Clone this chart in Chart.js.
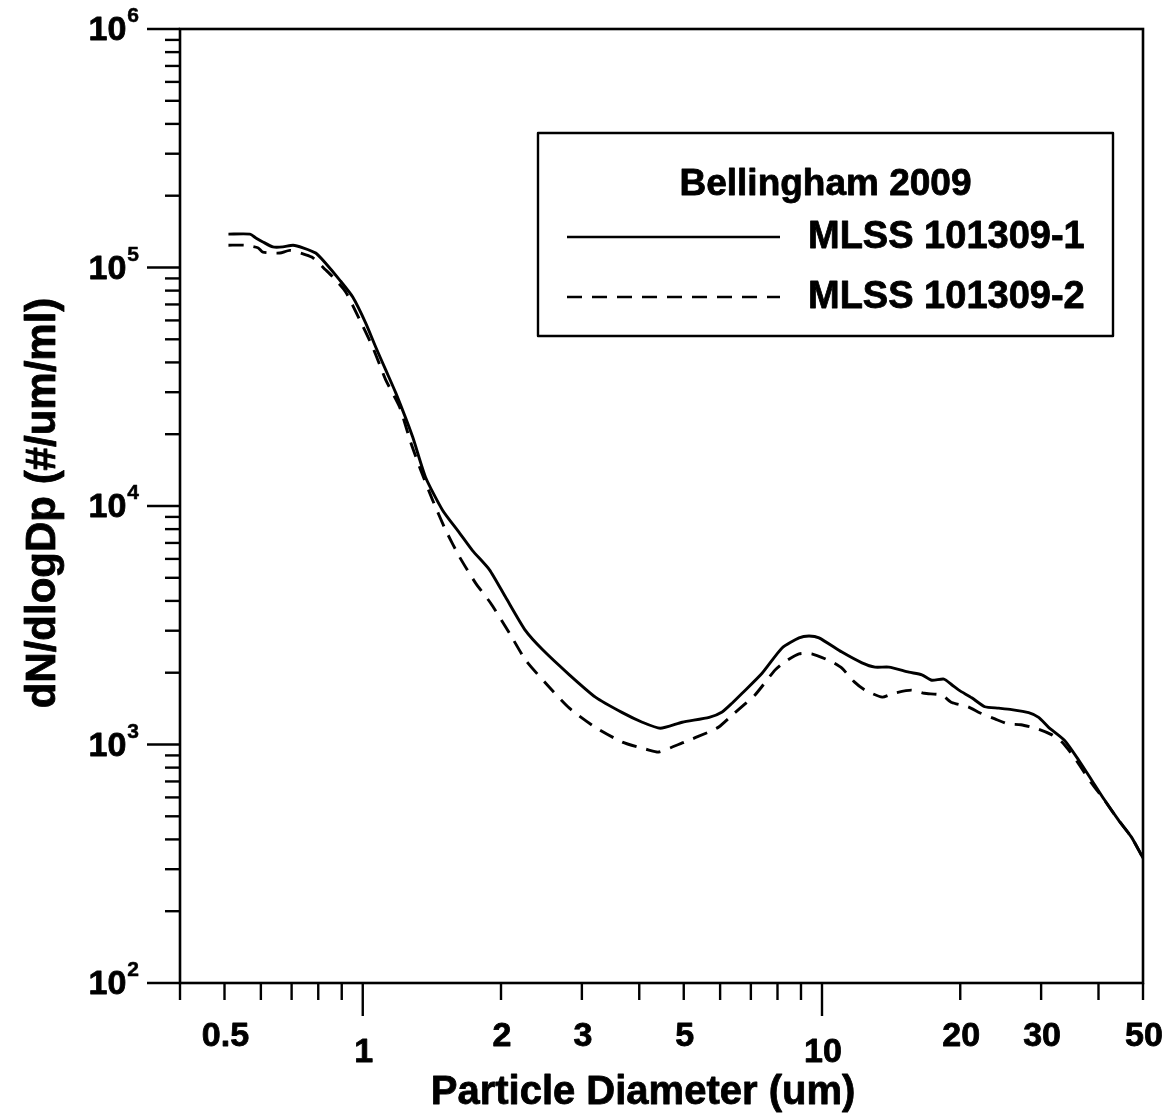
<!DOCTYPE html>
<html>
<head>
<meta charset="utf-8">
<script src="https://cdn.jsdelivr.net/npm/chart.js@4.4.1/dist/chart.umd.min.js"></script>
<style>
  html, body { margin: 0; padding: 0; background: #fff; }
  #wrap { width: 1168px; height: 1116px; position: relative; }
</style>
</head>
<body>
<div id="wrap"><canvas id="c" width="1168" height="1116"></canvas></div>
<script>
// ---- data ----
const diam1 = [0.51,0.568,0.585,0.606,0.637,0.670,0.705,0.741,0.790,0.831,0.891,0.951,1.015,1.067,1.122,1.180,1.284,1.370,1.492,1.625,1.734,1.888,2.046,2.262,2.462,2.818,3.211,3.675,4.061,4.444,4.963,5.680,6.062,6.37,6.701,7.405,8.185,8.913,9.370,9.851,11.05,12.22,13.04,13.99,15.46,16.50,17.34,18.42,19.17,19.86,21.19,22.62,24.26,25.88,28.18,29.63,31.15,33.75,36.21,38.64,41.24,44.23,47.19,50];
const vals1 = [1.38e5,1.38e5,1.33e5,1.28e5,1.22e5,1.22e5,1.24e5,1.21e5,1.15e5,1.04e5,8.86e4,7.52e4,5.85e4,4.64e4,3.72e4,2.98e4,1.95e4,1.32e4,9.6e3,7.7e3,6.5e3,5.4e3,4.15e3,3.0e3,2.5e3,1.96e3,1.58e3,1.36e3,1.24e3,1.17e3,1.24e3,1.30e3,1.37e3,1.49e3,1.64e3,1.99e3,2.54e3,2.80e3,2.85e3,2.80e3,2.44e3,2.20e3,2.11e3,2.11e3,2.01e3,1.96e3,1.86e3,1.88e3,1.78e3,1.69e3,1.57e3,1.44e3,1.42e3,1.40e3,1.36e3,1.30e3,1.18e3,1.04e3,861,710,585,482,409,334];
const diam2 = [0.51,0.554,0.591,0.606,0.660,0.694,0.752,0.778,0.831,0.861,0.918,0.985,1.051,1.122,1.203,1.271,1.337,1.419,1.515,1.625,1.761,1.898,2.087,2.262,2.500,2.818,3.211,3.675,4.200,4.41,4.963,5.680,5.96,6.45,7.14,7.90,8.30,8.91,9.50,10.52,11.05,11.76,12.41,13.53,14.33,15.65,16.70,18.23,19.17,20.80,22.1,23.8,25.4,27.1,29.6,31.6,33.3,35.5,38.6,41.2,44.2,47.2,50];
const vals2 = [1.24e5,1.24e5,1.21e5,1.16e5,1.15e5,1.18e5,1.13e5,1.10e5,9.76e4,9.13e4,7.90e4,6.03e4,4.64e4,3.38e4,2.60e4,1.855e4,1.416e4,1.06e4,7.93e3,6.11e3,4.75e3,3.92e3,2.93e3,2.26e3,1.81e3,1.42e3,1.18e3,1.024e3,948,930,1.015e3,1.13e3,1.184e3,1.356e3,1.61e3,2.05e3,2.22e3,2.40e3,2.40e3,2.22e3,2.09e3,1.83e3,1.69e3,1.58e3,1.64e3,1.69e3,1.64e3,1.61e3,1.50e3,1.44e3,1.356e3,1.28e3,1.22e3,1.21e3,1.16e3,1.10e3,1.024e3,878,690,585,482,409,334];

const seriesNames = ['MLSS 101309-1', 'MLSS 101309-2'];
const legendTitle = 'Bellingham 2009';
const xTitle = 'Particle Diameter (um)';
const yTitle = 'dN/dlogDp (#/um/ml)';

const xLabelValues = [0.5, 1, 2, 3, 5, 10, 20, 30, 50];
const xLabelTexts  = ['0.5', '1', '2', '3', '5', '10', '20', '30', '50'];
const xMajorTicks  = [1, 10];
const xMinorTicks  = [0.4,0.5,0.6,0.7,0.8,0.9,2,3,4,5,6,7,8,9,20,30,40,50];
const yExponents   = [2, 3, 4, 5, 6];
const xMin = 0.4, xMax = 50, yMin = 1e2, yMax = 1e6;

const FONT = '"Liberation Sans", Arial, Helvetica, sans-serif';

const pts = (xs, ys) => xs.map((x, i) => ({ x: x, y: ys[i] }));

function boldText(ctx, txt, x, y, w) {
  ctx.lineWidth = w;
  ctx.lineJoin = 'round';
  ctx.strokeText(txt, x, y);
  ctx.fillText(txt, x, y);
}

const axesPlugin = {
  id: 'customAxes',
  afterDraw(chart) {
    const ctx = chart.ctx;
    const a = chart.chartArea;
    const xs = chart.scales.x, ys = chart.scales.y;
    ctx.save();
    ctx.strokeStyle = '#000';
    ctx.fillStyle = '#000';
    ctx.lineCap = 'butt';
    // frame
    ctx.lineWidth = 2.6;
    ctx.strokeRect(a.left, a.top, a.right - a.left, a.bottom - a.top);

    // x ticks
    ctx.lineWidth = 2.4;
    xMinorTicks.forEach(v => {
      const px = xs.getPixelForValue(v);
      ctx.beginPath(); ctx.moveTo(px, a.bottom); ctx.lineTo(px, a.bottom + 17); ctx.stroke();
    });
    xMajorTicks.forEach(v => {
      const px = xs.getPixelForValue(v);
      ctx.beginPath(); ctx.moveTo(px, a.bottom); ctx.lineTo(px, a.bottom + 33); ctx.stroke();
    });
    // y ticks
    for (let e = yExponents[0]; e < yExponents[yExponents.length - 1]; e++) {
      for (let m = 2; m <= 9; m++) {
        const py = ys.getPixelForValue(m * Math.pow(10, e));
        ctx.beginPath(); ctx.moveTo(a.left, py); ctx.lineTo(a.left - 15, py); ctx.stroke();
      }
    }
    yExponents.forEach(e => {
      const py = ys.getPixelForValue(Math.pow(10, e));
      ctx.beginPath(); ctx.moveTo(a.left, py); ctx.lineTo(a.left - 33, py); ctx.stroke();
    });

    // x labels (decades staggered lower)
    ctx.font = 'bold 34px ' + FONT;
    ctx.textAlign = 'center';
    ctx.textBaseline = 'middle';
    xLabelValues.forEach((v, i) => {
      const px = xs.getPixelForValue(v);
      const isDecade = xMajorTicks.indexOf(v) >= 0;
      boldText(ctx, xLabelTexts[i], px + 1, isDecade ? a.bottom + 70 : a.bottom + 54, 0.8);
    });

    // y labels 10^n
    yExponents.forEach(e => {
      const py = ys.getPixelForValue(Math.pow(10, e));
      ctx.font = 'bold 21px ' + FONT;
      const sup = String(e);
      const sw = ctx.measureText(sup).width;
      const right = 139;
      ctx.textAlign = 'left';
      ctx.textBaseline = 'alphabetic';
      boldText(ctx, sup, right - sw, py - 7, 0.5);
      ctx.font = 'bold 34px ' + FONT;
      ctx.textAlign = 'right';
      ctx.textBaseline = 'middle';
      boldText(ctx, '10', right - sw - 1, py + 2, 0.8);
    });

    // axis titles
    ctx.font = 'bold 40px ' + FONT;
    ctx.textAlign = 'center';
    ctx.textBaseline = 'middle';
    boldText(ctx, xTitle, 643, 1093, 0.8);
    ctx.save();
    ctx.translate(43, 503);
    ctx.rotate(-Math.PI / 2);
    ctx.font = 'bold 42px ' + FONT;
    boldText(ctx, yTitle, 0, 0, 0.8);
    ctx.restore();

    // legend
    const L = { left: 538, top: 133, right: 1113, bottom: 336 };
    ctx.lineWidth = 2.4;
    ctx.fillStyle = '#fff';
    ctx.fillRect(L.left, L.top, L.right - L.left, L.bottom - L.top);
    ctx.strokeRect(L.left, L.top, L.right - L.left, L.bottom - L.top);
    ctx.fillStyle = '#000';
    ctx.font = 'bold 37px ' + FONT;
    ctx.textAlign = 'center';
    ctx.textBaseline = 'middle';
    boldText(ctx, legendTitle, (L.left + L.right) / 2, 185, 0.8);
    const rows = [237, 297];
    chart.data.datasets.forEach((ds, i) => {
      ctx.lineWidth = 2.6;
      ctx.setLineDash(ds.borderDash || []);
      ctx.beginPath(); ctx.moveTo(567, rows[i]); ctx.lineTo(780, rows[i]); ctx.stroke();
      ctx.setLineDash([]);
      ctx.textAlign = 'left';
      ctx.font = 'bold 38px ' + FONT;
      boldText(ctx, ds.label, 808, rows[i] + 1, 0.8);
    });
    ctx.restore();
  }
};

new Chart(document.getElementById('c'), {
  type: 'line',
  data: {
    datasets: [
      { label: seriesNames[0], data: pts(diam1, vals1), borderColor: '#000', borderWidth: 2.9, pointRadius: 0, tension: 0.2, fill: false },
      { label: seriesNames[1], data: pts(diam2, vals2), borderColor: '#000', borderWidth: 2.9, borderDash: [15, 10], pointRadius: 0, tension: 0.2, fill: false }
    ]
  },
  options: {
    responsive: false,
    animation: false,
    events: [],
    layout: { padding: { top: 29, right: 25, left: 0, bottom: 0 } },
    plugins: { legend: { display: false }, tooltip: { enabled: false }, title: { display: false } },
    scales: {
      x: {
        type: 'logarithmic', min: xMin, max: xMax,
        grid: { display: false }, border: { display: false },
        ticks: { display: false },
        afterFit(s) { s.height = 133; }
      },
      y: {
        type: 'logarithmic', min: yMin, max: yMax,
        grid: { display: false }, border: { display: false },
        ticks: { display: false },
        afterFit(s) { s.width = 180; }
      }
    }
  },
  plugins: [axesPlugin]
});
</script>
</body>
</html>
